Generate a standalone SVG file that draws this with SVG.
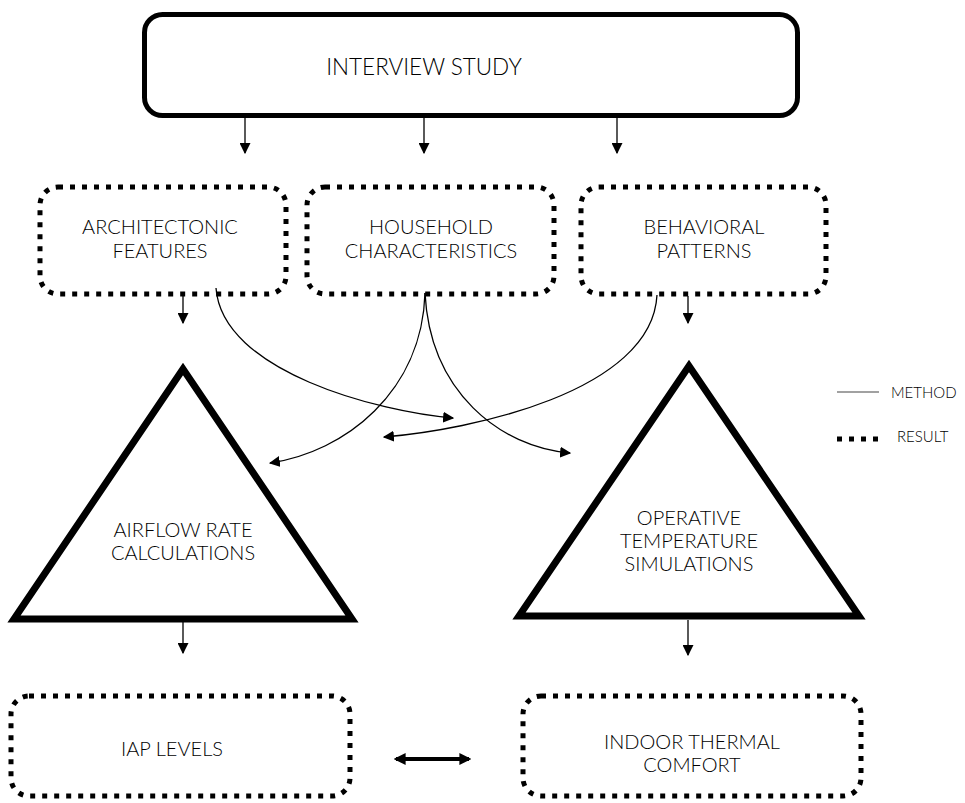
<svg xmlns="http://www.w3.org/2000/svg" width="965" height="803" viewBox="0 0 965 803">
<defs>
<style>
.t{font-family:Lato,"Liberation Sans",sans-serif;font-weight:300;fill:#000;text-anchor:middle;font-size:20px}
.big{font-size:22.5px}
.leg{font-size:15px;text-anchor:start}
.res{fill:none;stroke:#000;stroke-width:5;stroke-dasharray:5 7}
.meth{fill:#fff;stroke:#000;stroke-width:7;stroke-linejoin:miter}
.ln{fill:none;stroke:#000;stroke-width:1.3}
</style>
<marker id="ah" viewBox="0 0 10 10" refX="9" refY="5" markerWidth="11" markerHeight="11" markerUnits="userSpaceOnUse" orient="auto">
<path d="M0,0 L10,5 L0,10 z" fill="#000"/>
</marker>
<marker id="ah2" viewBox="0 0 10 10" refX="8" refY="5" markerWidth="12" markerHeight="12" markerUnits="userSpaceOnUse" orient="auto-start-reverse">
<path d="M0,0 L10,5 L0,10 z" fill="#000"/>
</marker>
</defs>
<rect width="965" height="803" fill="#fff"/>

<g id="interview">
<rect x="144.5" y="14.5" width="653" height="101" rx="18" fill="#fff" stroke="#000" stroke-width="5"/>
<text class="t big" x="424" y="75">INTERVIEW STUDY</text>
</g>

<g id="architectonic">
<rect class="res" x="40" y="187" width="246" height="107" rx="18"/>
<text class="t" x="160" y="234">ARCHITECTONIC</text>
<text class="t" x="160" y="258">FEATURES</text>
</g>

<g id="household">
<rect class="res" x="307" y="187" width="247" height="107" rx="18"/>
<text class="t" x="431" y="234">HOUSEHOLD</text>
<text class="t" x="431" y="258">CHARACTERISTICS</text>
</g>

<g id="behavioral">
<rect class="res" x="581" y="187" width="245" height="107" rx="18"/>
<text class="t" x="704" y="234">BEHAVIORAL</text>
<text class="t" x="704" y="258">PATTERNS</text>
</g>

<g id="airflow">
<polygon class="meth" points="183,369 14,619 352,619"/>
<text class="t" x="183" y="537">AIRFLOW RATE</text>
<text class="t" x="183" y="560">CALCULATIONS</text>
</g>

<g id="operative">
<polygon class="meth" points="689,366 519,616 859,616"/>
<text class="t" x="689" y="525">OPERATIVE</text>
<text class="t" x="689" y="548">TEMPERATURE</text>
<text class="t" x="689" y="571">SIMULATIONS</text>
</g>

<g id="iap">
<rect class="res" x="11" y="696" width="339" height="100" rx="18"/>
<text class="t" x="172" y="756">IAP LEVELS</text>
</g>

<g id="comfort">
<rect class="res" x="523" y="696" width="338" height="100" rx="18"/>
<text class="t" x="692" y="749">INDOOR THERMAL</text>
<text class="t" x="692" y="772">COMFORT</text>
</g>

<g id="legend">
<line x1="837" y1="392" x2="879" y2="392" stroke="#444" stroke-width="1.2"/>
<text class="t leg" x="891" y="398">METHOD</text>
<line x1="837" y1="439" x2="879" y2="439" stroke="#000" stroke-width="5" stroke-dasharray="5 7"/>
<text class="t leg" x="897" y="442">RESULT</text>
</g>

<g id="connectors">
<line class="ln" x1="245" y1="118" x2="245" y2="153" marker-end="url(#ah)"/>
<line class="ln" x1="424" y1="118" x2="424" y2="153" marker-end="url(#ah)"/>
<line class="ln" x1="617" y1="118" x2="617" y2="153" marker-end="url(#ah)"/>
<line class="ln" x1="183" y1="296" x2="183" y2="323" marker-end="url(#ah)"/>
<line class="ln" x1="688" y1="296" x2="688" y2="323" marker-end="url(#ah)"/>
<path class="ln" d="M216,288 C222,372 380,412 453,418" marker-end="url(#ah)"/>
<path class="ln" d="M425,293 C422,392 345,452 270,463" marker-end="url(#ah)"/>
<path class="ln" d="M425,293 C430,392 500,447 570,453" marker-end="url(#ah)"/>
<path class="ln" d="M657,295 C652,392 470,430 384,437" marker-end="url(#ah)"/>
<line class="ln" x1="183" y1="622" x2="183" y2="653" marker-end="url(#ah)"/>
<line class="ln" x1="688" y1="620" x2="688" y2="655" marker-end="url(#ah)"/>
<line x1="396" y1="759" x2="469" y2="759" stroke="#000" stroke-width="4" marker-start="url(#ah2)" marker-end="url(#ah2)"/>
</g>
</svg>
